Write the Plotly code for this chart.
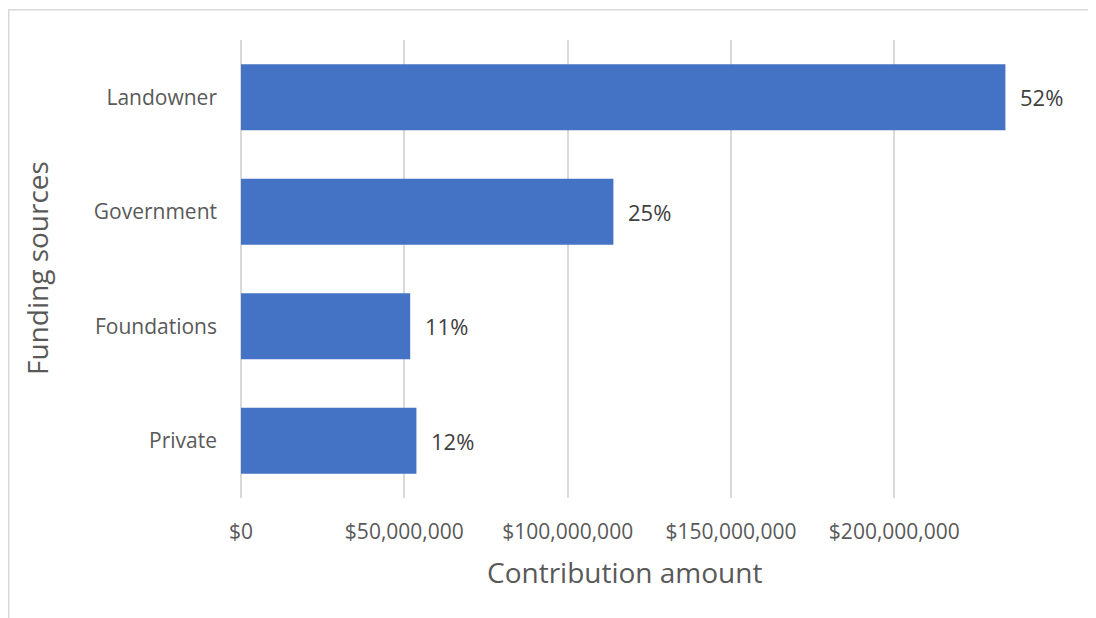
import plotly.graph_objects as go

categories = ["Landowner", "Government", "Foundations", "Private"]
amounts = [234_000_000, 114_000_000, 51_800_000, 53_700_000]
pct_labels = ["52%", "25%", "11%", "12%"]
tick_vals = [0, 50_000_000, 100_000_000, 150_000_000, 200_000_000]
tick_text = ["$0", "$50,000,000", "$100,000,000", "$150,000,000", "$200,000,000"]

# page body has an 8px margin, so the figure is 8px smaller and offset
OFF = 8
W, H = 1096 - OFF, 618 - OFF
L, R, T, B = 241 - OFF, 71, 40 - OFF, 120
pw, ph = W - L - R, H - T - B

def px_to_paper_x(px):
    return (px - OFF - L) / pw

def px_to_paper_y(py):
    return (H - B - (py - OFF)) / ph

font_family = "Open Sans, Noto Sans, sans-serif"

fig = go.Figure(go.Bar(
    x=amounts, y=categories, orientation="h",
    marker=dict(color="#4472C4", line=dict(width=0)),
    hoverinfo="skip",
))

for c, a, t in zip(categories, amounts, pct_labels):
    fig.add_annotation(x=a, y=c, text=t, showarrow=False, xanchor="left", yanchor="middle",
                       xshift=13, font=dict(size=22, color="#404040", family=font_family))

fig.add_annotation(x=px_to_paper_x(624), y=px_to_paper_y(572), xref="paper", yref="paper",
                   xanchor="center", yanchor="middle",
                   text="Contribution amount", showarrow=False,
                   font=dict(size=28, color="#595959", family=font_family))
fig.add_annotation(x=px_to_paper_x(37), y=px_to_paper_y(268), xref="paper", yref="paper",
                   xanchor="center", yanchor="middle",
                   text="Funding sources", showarrow=False, textangle=-90,
                   font=dict(size=28, color="#595959", family=font_family))

fig.add_shape(type="rect", xref="paper", yref="paper",
              x0=px_to_paper_x(8.75), x1=px_to_paper_x(1120),
              y0=px_to_paper_y(640), y1=px_to_paper_y(9.75),
              line=dict(color="#D9D9D9", width=1.5), fillcolor="rgba(0,0,0,0)", layer="below")

fig.update_layout(
    width=W, height=H,
    margin=dict(l=L, r=R, t=T, b=B),
    paper_bgcolor="white", plot_bgcolor="white",
    bargap=0.425, showlegend=False,
    font=dict(family=font_family, color="#595959", size=21),
)
fig.update_xaxes(range=[0, 240_000_000], tickvals=tick_vals, ticktext=tick_text,
                 showgrid=True, gridcolor="#D9D9D9", gridwidth=1.5,
                 zeroline=True, zerolinecolor="#D9D9D9", zerolinewidth=1.5,
                 showline=False, ticks="", ticklabelstandoff=19,
                 tickfont=dict(size=21, color="#595959"), fixedrange=True)
fig.update_yaxes(autorange="reversed", showgrid=False, zeroline=False, showline=False,
                 ticks="", ticklabelstandoff=23,
                 tickfont=dict(size=21, color="#595959"), fixedrange=True)

fig.write_html("out.html", config={"displayModeBar": False})
